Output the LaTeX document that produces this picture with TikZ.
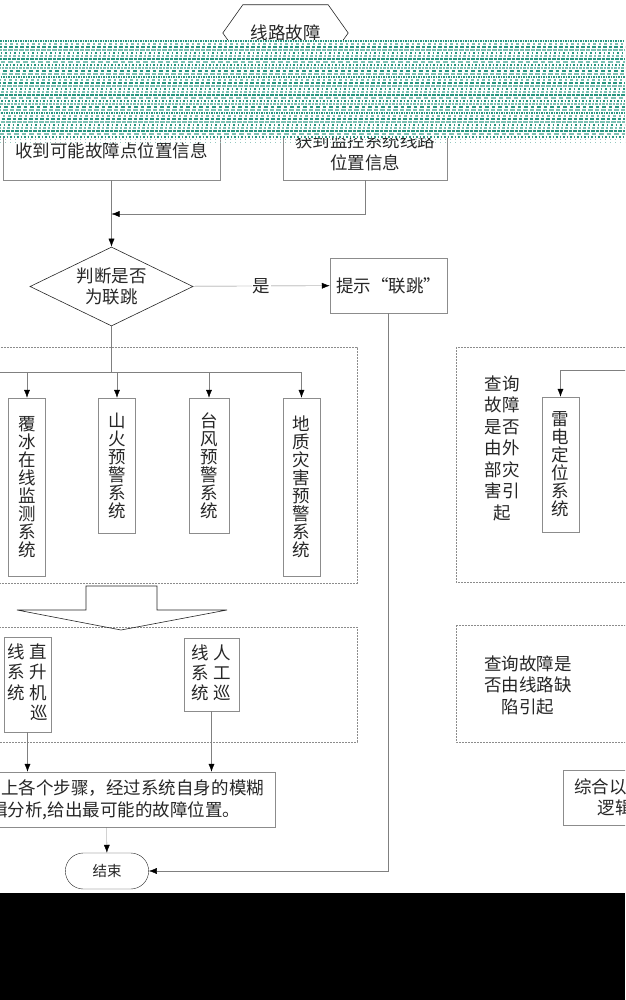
\documentclass[tikz,border=0pt]{standalone}
\usepackage{fontspec}
\setmainfont{Noto Sans CJK SC}
\usepackage{xcolor}
\usepackage{tikz}
\usetikzlibrary{positioning,arrows.meta,shapes.geometric,shapes.misc}

\definecolor{linegray}{gray}{0.5}
\definecolor{boxgray}{gray}{0.55}
\definecolor{noiseteal}{RGB}{40,150,128}

\begin{document}
\begin{tikzpicture}[
x=1pt, y=-1pt,
font=\fontsize{17.5}{21.5}\selectfont,
text=black!85,
box/.style={
	rectangle,
	draw=boxgray,
	align=center,
	inner sep=2pt
},
vbox/.style={
	box,
	font=\fontsize{17.5}{18}\selectfont,
	minimum width=37pt
},
group/.style={
	draw=boxgray,
	dash pattern=on 2pt off 1pt
},
arrow/.style={-{Latex[length=8pt,width=6pt,color=black]}, draw=linegray},
link/.style={draw=linegray},
noise/.style={line width=2pt}
]

\useasboundingbox (0,0) rectangle (625,1000);
\clip (0,0) rectangle (625,1000);

% start
\node[minimum width=85pt, minimum height=56pt, inner sep=0pt] (fault) at (285.5,33) {线路故障};
\draw[black!85, line width=0.6pt] (fault.north west) -- (fault.north east) -- ([xshift=20pt]fault.east)
	-- (fault.south east) -- (fault.south west) -- ([xshift=-20pt]fault.west) -- cycle;

\node[box, minimum width=217pt, minimum height=58pt] (recv) at (111.5,151) {收到可能故障点位置信息};
\node[box, minimum width=164pt, minimum height=56pt] (mon) at (365,152) {获到监控系统线路\\位置信息};
\coordinate (merge) at (111.5,214);

\node[diamond, draw=black!85, line width=0.6pt, aspect=2, minimum width=163pt, minimum height=79pt,
	inner sep=0pt, align=center] (judge) at (111.5,286.5) {判断是否\\为联跳};
\node[box, minimum width=117pt, minimum height=55pt] (tip) at (388.5,285.5) {提示“联跳”};

% groups
\draw[group] (-5,347) rectangle (357,583);
\draw[group] (456,347) rectangle (640,582);
\draw[group] (-5,627) rectangle (357,742);
\draw[group] (456,625) rectangle (640,742);

\node[vbox, minimum height=178pt] (ice) at (27,487) {覆\\冰\\在\\线\\监\\测\\系\\统};
\node[vbox, minimum height=135pt] (fire) at (117,465.5) {山\\火\\预\\警\\系\\统};
\node[vbox, minimum width=40pt, minimum height=135pt] (wind) at (209,465.5) {台\\风\\预\\警\\系\\统};
\node[vbox, minimum height=178pt] (geo) at (301.5,487) {地\\质\\灾\\害\\预\\警\\系\\统};
\node[vbox, minimum height=135pt] (thunder) at (560.5,464.5) {雷\\电\\定\\位\\系\\统};
\node[align=center] (extq) at (502,448) {查询\\故障\\是否\\由外\\部灾\\害引\\起};

\coordinate (split) at (111.5,372);
\coordinate (wrapL) at (-5,372);
\coordinate (wrapR) at (630,370);

% block arrow
\draw[black!85, line width=0.6pt] (86,586) -- (157,586) -- (157,610) -- (227,610) -- (121,630)
	-- (17,610) -- (86,610) -- cycle;

\node[box, minimum width=47pt, minimum height=95pt, font=\fontsize{17.5}{19}\selectfont] (heli) at (27.5,684.5) {%
	\begin{tabular}{@{}c@{\hspace{5pt}}c@{}}线&直\\系&升\\统&机\\&巡\end{tabular}};
\node[box, minimum width=55pt, minimum height=73pt, font=\fontsize{17.5}{18}\selectfont] (manual) at (211.5,674.5) {%
	\begin{tabular}{@{}c@{\hspace{5pt}}c@{}}线&人\\系&工\\统&巡\end{tabular}};
\node[align=center] (defq) at (528,685) {查询故障是\\否由线路缺\\陷引起};

\node[box, minimum width=337pt, minimum height=55pt] (sum) at (106.5,799.5) {综合以上各个步骤，经过系统自身的模糊\\逻辑分析,给出最可能的故障位置。};
\node[box, minimum width=337pt, minimum height=55pt] (sumwrap) at (731.5,798) {综合以上各个步骤，经过系统自身的模糊\\逻辑分析,给出最可能的故障位置。};

\node[rounded rectangle, draw=black!85, minimum width=90pt, minimum height=36pt,
	font=\fontsize{14.5}{17}\selectfont] (end) at (107,871) {结束};

% connectors
\draw[arrow] (recv) -- (judge);
\draw[arrow] (mon.south) |- (merge);
\draw[arrow] (judge) -- node[fill=white, inner sep=1pt] {是} (tip);
\draw[arrow] (tip) |- (end);

\draw[link] (judge) -- (split);
\draw[link] (wrapL) -- (split -| geo.north);
\foreach \n in {ice,fire,wind,geo}
	\draw[arrow] (split -| \n.north) -- (\n.north);
\draw[arrow] (wrapR) -| (thunder.north);

\draw[arrow] (heli) -- (heli |- sum.north);
\draw[arrow] (manual) -- (manual |- sum.north);
\draw[arrow] (sum) -- (end);

% noise band
\fill[white] (0,40) rectangle (625,138);
\foreach \k [evaluate=\k as \yy using 41.5+3*\k,
	evaluate=\k as \dashon using {1.5+mod(\k,4)},
	evaluate=\k as \dashoff using {1+mod(\k*5,3)},
	evaluate=\k as \shade using {int(100-40*mod(\k,2))}] in {0,...,32}
	\draw[noise, noiseteal!\shade, dash pattern=on \dashon pt off \dashoff pt, dash phase=\k pt] (0,\yy) -- (625,\yy);
\foreach \yy in {139.5,142}
	\draw[noiseteal!50, line width=0.8pt, dash pattern=on 1pt off 4pt] (0,\yy) -- (625,\yy);

% bottom band
\fill[black] (0,893) rectangle (625,1000);

\end{tikzpicture}
\end{document}
